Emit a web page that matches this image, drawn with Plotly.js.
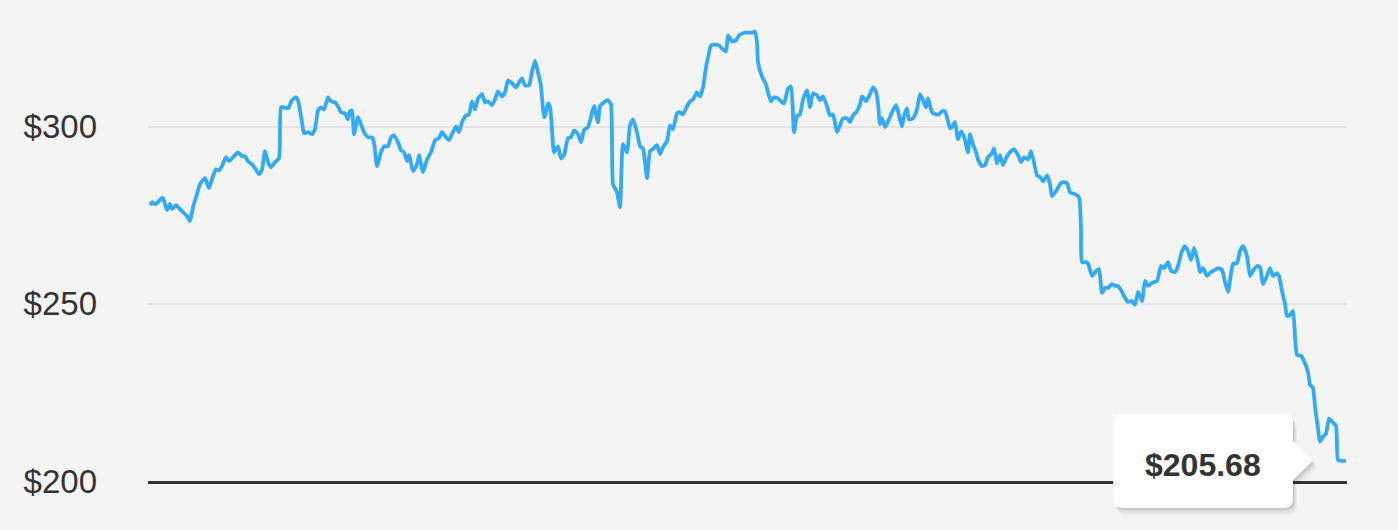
<!DOCTYPE html>
<html>
<head>
<meta charset="utf-8">
<script src="https://cdn.plot.ly/plotly-3.0.1.min.js"></script>
<style>
html,body{margin:0;padding:0;background:#f4f4f4;}
#chart{width:1398px;height:530px;}
</style>
</head>
<body>
<div id="chart"></div>
<script>
// trading-day offsets (x) and closing prices (y)
const days = [2,4,7,10,12,15,19,22,24,28,30,34,39,42,45,49,52,57,61,64,68,71,74,78,81,85,90,94,97,100,104,107,111,114,117,120,123,127,131,133,136,140,144,148,150,154,156,160,164,167,170,173,176,180,183,187,190,193,197,
200,202,204,206,210,213,216,220,224,226,229,233,236,240,243,246,250,253,256,259,261,265,269,271,275,279,283,287,291,294,298,301,304,308,311,314,318,321,324,327,330,334,337,340,344,347,350,354,357,360,364,368,371,374,377,381,384,387,390,393,396,
397,400,402,404,406,410,413,416,420,423,426,430,433,436,440,443,446,450,452,456,460,463,465,469,472,475,479,482,485,489,492,495,499,502,505,509,512,515,519,522,525,529,532,535,539,542,545,549,552,555,558,560,563,567,571,574,578,580,584,588,591,594,597,
600,604,607,609,610,614,618,620,623,626,630,633,636,640,643,646,649,652,655,659,662,665,669,672,675,679,682,685,689,692,695,699,702,705,709,712,714,718,721,725,728,730,732,734,737,741,744,748,750,754,756,759,761,765,769,772,775,778,780,784,788,791,794,797,
800,802,804,807,810,813,816,820,822,824,828,830,834,837,840,844,846,849,852,855,859,862,866,870,873,876,880,883,886,889,892,895,899,902,904,908,912,915,919,922,927,931,933,934,939,941,944,948,951,954,957,960,964,967,970,974,977,980,984,987,990,994,997,
1000,1004,1009,1013,1016,1020,1023,1027,1030,1034,1037,1040,1043,1046,1050,1052,1055,1059,1063,1067,1070,1074,1077,1080,1083,1085,1089,1092,1095,1099,1102,1105,1109,1112,1115,1119,1122,1125,1129,1131,1134,1137,1139,1142,1145,1147,1149,1153,1156,1160,1162,1165,1167,1170,1172,1175,1178,1181,1184,1188,1190,1194,1198];

const prices = [277.9,278.7,278.2,278.7,279.4,279.9,276.5,278.2,276.8,277.9,277.3,276.2,274.8,273.4,277.3,281.0,283.8,285.5,282.7,285.2,288.0,287.7,288.9,291.4,290.3,291.4,292.8,291.7,291.7,290.3,289.4,288.3,286.6,288.0,293.1,290.0,288.6,290.0,291.1,305.5,305.5,305.2,307.5,308.3,307.5,301.3,298.2,298.5,297.9,299.3,304.6,305.5,304.9,308.3,307.2,306.9,305.8,304.1,303.8,
302.1,304.4,304.6,297.9,302.7,300.7,298.5,297.0,297.0,295.6,288.9,292.8,294.5,294.5,297.0,297.6,295.6,293.4,292.8,290.3,292.0,287.5,289.4,292.0,287.2,290.8,292.8,296.2,296.8,298.5,297.0,296.2,297.9,300.1,298.5,301.3,303.2,303.5,307.2,304.9,308.0,309.2,306.9,307.2,306.1,307.7,310.0,308.6,309.7,313.1,312.3,311.1,312.5,313.7,311.7,311.7,315.6,318.7,315.4,311.4,302.7,
303.0,306.6,305.5,299.3,292.8,294.5,291.1,292.0,296.8,297.0,299.0,297.9,295.6,299.0,299.9,302.7,305.8,301.3,305.8,306.9,307.5,306.3,283.8,281.5,277.3,295.1,292.8,300.4,302.1,298.5,294.5,293.9,285.5,293.1,293.7,294.8,292.3,294.2,295.9,300.4,299.3,303.8,304.1,303.5,305.8,307.2,307.7,309.7,308.6,311.1,316.8,319.6,323.0,323.2,323.0,322.1,321.3,325.8,324.1,324.4,325.8,326.3,326.6,
326.6,326.6,326.9,323.8,318.2,314.2,312.0,309.7,307.2,308.3,308.0,307.2,306.6,310.8,311.4,298.5,303.0,303.5,307.7,310.3,305.5,309.4,308.9,307.5,308.6,305.8,303.2,303.5,298.5,300.4,302.4,302.4,301.3,303.2,304.4,306.3,308.6,307.2,308.6,311.1,310.0,306.6,300.7,302.4,299.9,302.1,304.1,306.1,304.4,300.1,303.0,305.2,302.1,302.4,304.9,309.2,307.5,305.5,308.0,304.1,303.5,303.5,304.4,304.4,
301.5,299.6,299.9,301.3,296.5,298.7,297.3,292.8,297.9,295.9,292.8,290.8,288.9,289.2,291.4,292.5,293.9,289.7,292.0,289.2,291.7,292.8,293.7,292.0,290.0,291.4,290.8,293.1,290.0,286.3,285.8,284.6,286.3,283.8,280.4,281.8,283.8,284.4,284.1,281.5,281.0,280.1,271.1,261.8,261.8,260.7,257.9,259.3,259.9,253.1,254.5,254.5,255.6,255.1,255.1,253.4,251.7,250.6,250.8,249.7,253.4,250.8,256.5,
255.1,255.9,256.5,260.7,260.1,261.8,259.3,259.0,260.7,264.9,266.3,264.9,262.4,265.8,261.8,259.0,260.1,257.9,259.0,259.6,260.1,259.6,256.2,253.4,258.5,261.3,261.5,264.9,266.3,263.5,257.9,259.3,260.7,260.4,255.6,257.9,260.1,257.9,258.7,257.9,253.7,250.0,246.6,246.9,248.0,241.0,235.6,235.4,233.9,230.8,227.2,226.3,221.0,214.8,211.1,212.5,213.4,217.6,216.8,215.6,205.9,205.7,205.68];

const tickValues = [200, 250, 300];
const tickLabels = ['$200', '$250', '$300'];

const xRange = [0, 1199];
const yRange = [200, 330.15];

const lastX = days[days.length - 1];
const lastY = prices[prices.length - 1];
// anchor of the callout, expressed as a fraction of the plot area
const anchorX = (lastX - xRange[0]) / (xRange[1] - xRange[0]);
const anchorY = (lastY - yRange[0]) / (yRange[1] - yRange[0]);

// callout outline in pixel offsets relative to the last point (y up)
function calloutPath(ox, oy) {
  const L = -233 + ox, R = -53 + ox, T = 47 + oy, B = -47 + oy, r = 9;
  const tipX = -33 + ox, tipY = 0 + oy;
  return `M ${L + r},${T} L ${R - r},${T} Q ${R},${T} ${R},${T - r} ` +
         `L ${R},${tipY + 20} L ${tipX},${tipY} L ${R},${tipY - 19} ` +
         `L ${R},${B + r} Q ${R},${B} ${R - r},${B} L ${L + r},${B} ` +
         `Q ${L},${B} ${L},${B + r} L ${L},${T - r} Q ${L},${T} ${L + r},${T} Z`;
}
function calloutShape(ox, oy, fill) {
  return {
    type: 'path', xref: 'paper', yref: 'paper', xsizemode: 'pixel', ysizemode: 'pixel',
    xanchor: anchorX, yanchor: anchorY, path: calloutPath(ox, oy),
    fillcolor: fill, line: {width: 0}, layer: 'above'
  };
}

const trace = {
  x: days, y: prices, type: 'scatter', mode: 'lines',
  line: {color: '#33aaf5', width: 3.8, shape: 'spline', smoothing: 0.5},
  hoverinfo: 'skip'
};

const layout = {
  width: 1398, height: 530,
  paper_bgcolor: '#f4f4f4', plot_bgcolor: '#f4f4f4',
  margin: {l: 148, r: 51, t: 20, b: 49},
  showlegend: false,
  hovermode: false,
  xaxis: {
    range: xRange, showgrid: false, zeroline: false,
    showticklabels: false, ticks: '',
    showline: true, linecolor: '#333333', linewidth: 2.5
  },
  yaxis: {
    range: yRange, tickmode: 'array', tickvals: tickValues, ticktext: tickLabels,
    showgrid: true, gridcolor: '#e3e3e3', gridwidth: 2, zeroline: false,
    ticks: '', ticklabelstandoff: 50,
    tickfont: {family: 'Liberation Sans, Arial, sans-serif', size: 33, color: '#333333'}
  },
  shapes: [
    calloutShape(4, -7, 'rgba(0,0,0,0.03)'),
    calloutShape(3, -5, 'rgba(0,0,0,0.04)'),
    calloutShape(2, -3, 'rgba(0,0,0,0.06)'),
    calloutShape(1, -1.5, 'rgba(0,0,0,0.08)'),
    calloutShape(0, 0, '#ffffff')
  ],
  annotations: [{
    xref: 'x', yref: 'y', x: lastX, y: lastY,
    xshift: -143, yshift: -4, showarrow: false,
    xanchor: 'center', yanchor: 'middle',
    text: '<b>$' + lastY.toFixed(2) + '</b>',
    font: {family: 'Liberation Sans, Arial, sans-serif', size: 32, color: '#333333'}
  }]
};

Plotly.newPlot('chart', [trace], layout, {displayModeBar: false, staticPlot: true});
</script>
</body>
</html>
